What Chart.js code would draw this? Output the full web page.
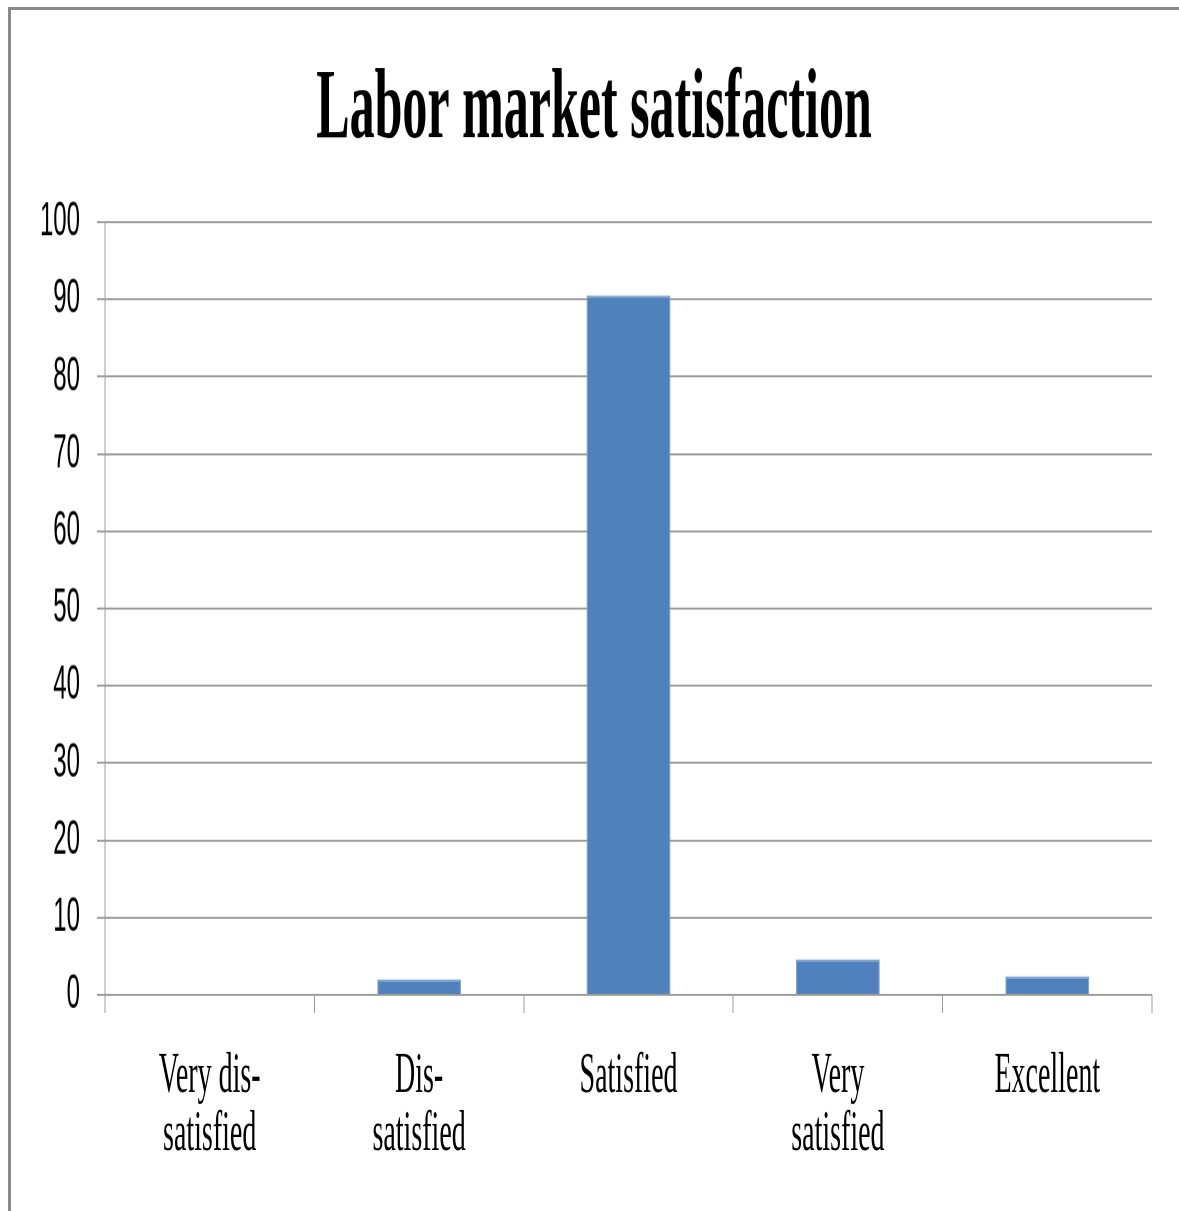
<!DOCTYPE html>
<html>
<head>
<meta charset="utf-8">
<script src="https://cdn.jsdelivr.net/npm/chart.js@4/dist/chart.umd.min.js"></script>
<style>
  html, body { margin: 0; padding: 0; background: #fff; overflow: hidden; }
  #frame {
    position: absolute; left: 8px; top: 7px; width: 1300px; height: 1300px;
    border-top: 3px solid #8a8a8a; border-left: 3px solid #8a8a8a;
  }
  /* the original picture is stretched vertically, so draw at half height and stretch */
  #wrap {
    position: absolute; left: 0; top: 0; width: 1179px; height: 605.5px;
    transform: scaleY(2); transform-origin: 0 0;
  }
</style>
</head>
<body>
<div id="frame"></div>
<div id="wrap"><canvas id="satChart"></canvas></div>
<script>
// Chart data
const categories = [["Very dis-", "satisfied"], ["Dis-", "satisfied"], "Satisfied", ["Very", "satisfied"], "Excellent"];
const values = [0, 2.0, 90.5, 4.6, 2.4];
const yTicks = [0, 10, 20, 30, 40, 50, 60, 70, 80, 90, 100];

const gridColor = '#9c9c9c';

const ctx = document.getElementById('satChart').getContext('2d');
const satChart = new Chart(ctx, {
    type: 'bar',
    data: {
        labels: categories,
        datasets: [{
            label: 'Satisfaction',
            data: values,
            backgroundColor: '#4f81bd',
            borderColor: '#7fa2cf',
            borderWidth: { top: 1, left: 1, right: 1, bottom: 0 },
            categoryPercentage: 1.0,
            barPercentage: 0.4
        }]
    },
    options: {
        responsive: true,
        maintainAspectRatio: false,
        animation: false,
        devicePixelRatio: 2,
        layout: { padding: { left: 36, right: 27, top: 0, bottom: 0 } },
        plugins: {
            legend: { display: false },
            tooltip: { enabled: false },
            title: {
                display: true,
                text: 'Labor market satisfaction',
                color: '#000',
                font: { family: '"Liberation Serif", "Times New Roman", serif', size: 50, weight: 'bold', lineHeight: 1.2 },
                padding: { top: 25.5, bottom: 25.5 }
            }
        },
        scales: {
            x: {
                afterFit: (scale) => { scale.height = 108.5; },
                grid: {
                    offset: true,
                    drawOnChartArea: false,
                    drawTicks: true,
                    tickLength: 9,
                    color: gridColor,
                    lineWidth: 1
                },
                border: { display: false },
                ticks: {
                    color: '#000',
                    maxRotation: 0,
                    autoSkip: false,
                    padding: 17.5,
                    font: { family: '"Liberation Serif", "Times New Roman", serif', size: 28, lineHeight: 1.04 }
                }
            },
            y: {
                min: 0,
                max: 100,
                afterFit: (scale) => { scale.width = 69; },
                afterBuildTicks: (scale) => { scale.ticks = yTicks.map(v => ({ value: v })); },
                grid: {
                    color: gridColor,
                    lineWidth: 1,
                    drawTicks: true,
                    tickLength: 8
                },
                border: { display: true, color: gridColor, width: 1 },
                ticks: {
                    color: '#000',
                    padding: 17,
                    font: { family: '"Liberation Sans", Arial, sans-serif', size: 24 }
                }
            }
        }
    }
});
</script>
</body>
</html>
